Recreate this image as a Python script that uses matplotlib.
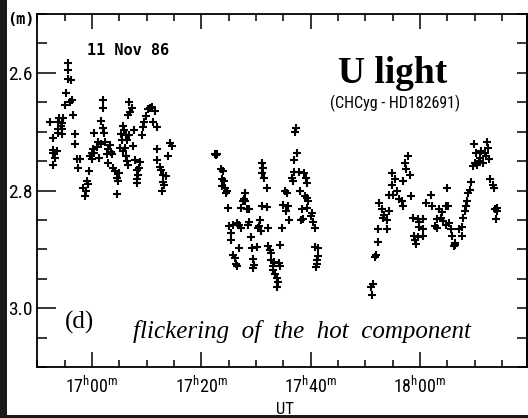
import matplotlib
matplotlib.use("Agg")
import matplotlib.pyplot as plt
from matplotlib import font_manager
from matplotlib.patches import Rectangle
from matplotlib.ticker import FixedLocator, FuncFormatter, MultipleLocator

# U-band light curve of CH Cyg, 11 Nov 1986
# time in minutes after 17h00m UT, brightness in magnitudes
run1_ut = [-7.68, -7.19, -7.19, -7.08, -6.77, -7.08, -6.46, -6.16, -6.16, -6.16,
           -5.98, -5.72, -5.54, -5.54, -5.43, -5.25, -4.94, -4.76, -4.33, -4.33,
           -4.33, -3.90, -4.02, -3.71, -3.42, -3.11, -3.11, -2.69, -2.19, -2.51,
           -1.59, -1.28, -1.10, -0.97, -0.68, -0.49, -0.37, -0.05, 0.05, 0.24,
           0.42, 0.42, 0.86, 1.15, 1.34, 1.59, 1.59, 1.96, 2.07, 2.07,
           2.19, 2.38, 2.80, 2.98, 2.98, 3.29, 3.42, 3.60, 3.79, 4.21,
           4.63, 4.81, 4.99, 4.63, 5.12, 5.25, 5.43, 5.62, 5.62, 5.85,
           6.04, 6.22, 6.35, 6.22, 6.35, 6.64, 6.64, 6.82, 6.95, 7.26,
           6.82, 7.55, 7.68, 7.86, 8.18, 8.36, 8.18, 8.29, 8.65, 8.78,
           9.09, 9.38, 9.51, 9.88, 10.30, 10.61, 10.92, 11.52, 11.21, 11.83,
           11.83, 11.94, 12.44, 12.62, 13.08, 13.63, 12.99, 13.26, 12.89, 14.27,
           14.58, 13.96]
run1_mag = [2.683, 2.711, 2.732, 2.737, 2.744, 2.756, 2.733, 2.684, 2.696, 2.703,
            2.676, 2.690, 2.685, 2.696, 2.704, 2.676, 2.654, 2.634, 2.583, 2.595,
            2.611, 2.612, 2.649, 2.646, 2.671, 2.704, 2.721, 2.746, 2.747, 2.762,
            2.795, 2.810, 2.801, 2.784, 2.789, 2.767, 2.741, 2.736, 2.746, 2.730,
            2.737, 2.702, 2.726, 2.718, 2.744, 2.721, 2.682, 2.646, 2.660, 2.694,
            2.703, 2.718, 2.738, 2.730, 2.753, 2.723, 2.734, 2.738, 2.761, 2.767,
            2.778, 2.784, 2.770, 2.806, 2.728, 2.704, 2.715, 2.690, 2.733, 2.697,
            2.727, 2.705, 2.715, 2.741, 2.750, 2.756, 2.672, 2.649, 2.667, 2.659,
            2.706, 2.724, 2.697, 2.749, 2.766, 2.773, 2.781, 2.787, 2.761, 2.751,
            2.705, 2.692, 2.684, 2.673, 2.662, 2.659, 2.658, 2.665, 2.684, 2.692,
            2.729, 2.749, 2.760, 2.766, 2.774, 2.776, 2.785, 2.790, 2.801, 2.720,
            2.724, 2.741]

run2_ut = [22.50, 22.77, 22.86, 23.54, 23.91, 23.72, 24.14, 23.72, 24.33, 24.64,
           24.51, 24.93, 25.11, 25.42, 25.37, 25.84, 26.58, 26.94, 27.20, 26.94,
           25.84, 26.16, 26.34, 26.58, 27.98, 27.80, 27.56, 27.98, 27.20, 28.30,
           28.77, 28.77, 28.59, 29.03, 29.21, 30.12, 29.50, 29.63, 29.50, 31.04,
           31.33, 31.04, 31.51, 31.95, 31.04, 32.06, 30.73, 30.60, 30.42, 30.91,
           32.25, 32.25, 32.56, 32.68, 32.74, 33.29, 33.05, 33.16, 33.47, 33.89,
           34.08, 33.78, 34.39, 34.26, 34.39, 34.70, 35.30, 35.61, 34.99, 35.90,
           35.48, 36.09, 36.53, 36.82, 36.95, 37.92, 38.78, 39.14, 39.27, 38.04,
           38.96, 39.38, 39.56, 38.35, 39.27, 40.18, 40.00, 38.54, 38.23, 40.48,
           40.79, 37.44, 36.95, 37.31, 37.13, 40.79, 41.39, 41.39, 41.10, 41.21,
           40.97]
run2_mag = [2.738, 2.739, 2.738, 2.764, 2.767, 2.781, 2.784, 2.793, 2.795, 2.801,
            2.805, 2.830, 2.861, 2.873, 2.884, 2.858, 2.856, 2.858, 2.864, 2.898,
            2.909, 2.915, 2.925, 2.928, 2.804, 2.815, 2.817, 2.818, 2.830, 2.832,
            2.831, 2.854, 2.858, 2.879, 2.898, 2.896, 2.917, 2.926, 2.932, 2.753,
            2.761, 2.770, 2.778, 2.795, 2.826, 2.828, 2.850, 2.860, 2.864, 2.868,
            2.864, 2.895, 2.901, 2.906, 2.918, 2.921, 2.929, 2.935, 2.942, 2.949,
            2.955, 2.964, 2.892, 2.923, 2.929, 2.864, 2.801, 2.805, 2.824, 2.826,
            2.834, 2.850, 2.778, 2.784, 2.769, 2.769, 2.771, 2.778, 2.787, 2.801,
            2.810, 2.812, 2.818, 2.831, 2.830, 2.838, 2.844, 2.848, 2.850, 2.854,
            2.864, 2.736, 2.748, 2.693, 2.701, 2.896, 2.898, 2.912, 2.918, 2.925,
            2.930]

run3_ut = [51.34, 51.12, 51.21, 51.76, 51.94, 52.37, 52.37, 53.90, 52.55, 52.99,
           53.41, 53.28, 53.90, 54.38, 54.82, 55.42, 54.82, 55.73, 55.11, 54.38,
           56.21, 56.64, 56.83, 56.94, 58.16, 57.43, 57.25, 57.85, 58.29, 58.66,
           59.68, 60.60, 59.86, 59.86, 60.49, 58.89, 59.08, 59.26, 59.68, 60.60,
           61.09, 62.13, 61.95, 62.74, 63.05, 63.05, 63.78, 63.52, 63.96, 64.75,
           65.17, 64.14, 64.75, 65.35, 65.61, 64.99, 65.79, 67.62, 66.39, 66.21,
           66.49, 67.18, 67.62, 67.91, 68.22, 68.40, 68.53, 68.82, 69.13, 69.32,
           69.63, 70.05, 70.47, 70.84, 70.23, 69.87, 71.11, 70.97, 71.88, 72.49,
           72.30, 72.67, 72.07, 71.57, 72.92, 73.29, 73.53, 74.02, 73.71, 74.13,
           73.89]
run3_mag = [2.959, 2.964, 2.978, 2.913, 2.909, 2.887, 2.865, 2.865, 2.821, 2.832,
            2.841, 2.847, 2.850, 2.834, 2.770, 2.781, 2.790, 2.801, 2.807, 2.807,
            2.815, 2.818, 2.827, 2.784, 2.774, 2.763, 2.754, 2.741, 2.810, 2.847,
            2.848, 2.848, 2.854, 2.862, 2.865, 2.877, 2.884, 2.891, 2.879, 2.878,
            2.821, 2.827, 2.807, 2.861, 2.864, 2.848, 2.847, 2.832, 2.837, 2.827,
            2.827, 2.852, 2.858, 2.855, 2.865, 2.795, 2.877, 2.878, 2.889, 2.895,
            2.892, 2.865, 2.862, 2.847, 2.835, 2.827, 2.818, 2.804, 2.799, 2.786,
            2.759, 2.753, 2.756, 2.750, 2.736, 2.721, 2.733, 2.745, 2.736, 2.727,
            2.718, 2.747, 2.741, 2.753, 2.781, 2.790, 2.795, 2.830, 2.832, 2.835,
            2.848]

mag_labels = [2.6, 2.8, 3.0]
ut_labels = [0, 20, 40, 60]


def pick_narrow_font():
    """Return (family, stretch, size) for a condensed sans, falling back to Liberation Sans."""
    fonts = font_manager.fontManager.ttflist
    names = {f.name for f in fonts}
    for fam in ('Liberation Sans Narrow', 'Roboto Condensed', 'Open Sans Condensed'):
        if fam in names:
            return fam, 'normal', 13
    if any(f.name == 'DejaVu Sans' and f.stretch == 'condensed' for f in fonts):
        return 'DejaVu Sans', 'condensed', 12
    return 'Liberation Sans', 'normal', 12


narrow, stretch, lab_size = pick_narrow_font()
plt.rcParams['font.family'] = [narrow]
plt.rcParams['font.stretch'] = stretch
plt.rcParams['font.size'] = lab_size
serif = 'Liberation Serif'


def ut_fmt(v, pos):
    h = 17 + int(v) // 60
    m = int(v) % 60
    return f'{h}$^\\mathregular{{h}}$' + f'{m:02d}$^\\mathregular{{m}}$'


fig = plt.figure(figsize=(5.28, 4.18), dpi=100)
ax = fig.add_axes([36.5 / 528, 1 - 367 / 418, 490.5 / 528, 353 / 418])

for ut, mag in [(run1_ut, run1_mag), (run2_ut, run2_mag), (run3_ut, run3_mag)]:
    ax.plot(ut, mag, '+', color='black', ms=5.5, mew=1.5)

ax.set_xlim(-10.15, 79.6)
ax.set_ylim(3.1, 2.5)

for s in ax.spines.values():
    s.set_linewidth(1.3)

# x axis: long ticks every 20 min, short every 5, on top and bottom
ax.xaxis.set_major_locator(FixedLocator(ut_labels))
ax.xaxis.set_minor_locator(MultipleLocator(5))
ax.xaxis.set_major_formatter(FuncFormatter(ut_fmt))
ax.tick_params(axis='x', which='both', direction='in', top=True, width=1.1)
ax.tick_params(axis='x', which='major', length=10.5, pad=6)
ax.tick_params(axis='x', which='minor', length=5)

# left y axis: long ticks at labelled values
ax.yaxis.set_major_locator(FixedLocator(mag_labels))
ax.yaxis.set_minor_locator(MultipleLocator(0.05))
ax.yaxis.set_major_formatter(FuncFormatter(lambda v, p: f'{v:.1f}'))
ax.tick_params(axis='y', which='both', direction='in', right=False, width=1.1)
ax.tick_params(axis='y', which='major', length=14, pad=3, labelsize=lab_size + 1)
ax.tick_params(axis='y', which='minor', length=7.5)

# right y axis: equal short ticks every 0.05 mag
ry = ax.secondary_yaxis('right')
ry.yaxis.set_major_locator(MultipleLocator(0.05))
ry.tick_params(axis='y', which='major', direction='in', length=7.5, width=1.1, labelright=False)
ry.spines['right'].set_linewidth(1.3)

ax.set_xlabel('UT', fontsize=lab_size - 1)
ax.xaxis.set_label_coords(0.507, -0.098)

fig.text(7 / 528, 1 - 20 / 418, '(m)', fontfamily='DejaVu Sans Mono', fontweight='bold',
         fontstretch='normal', fontsize=11, va='center', ha='left')

ax.text(0.103, 0.884, '11 Nov 86', transform=ax.transAxes, fontfamily='DejaVu Sans Mono',
        fontweight='bold', fontstretch='normal', fontsize=11, va='baseline', ha='left')
ax.text(0.726, 0.805, 'U light', transform=ax.transAxes, fontfamily=serif,
        fontweight='bold', fontstretch='normal', fontsize=27, va='baseline', ha='center')
ax.text(0.731, 0.748, '(CHCyg - HD182691)', transform=ax.transAxes,
        fontsize=lab_size - 1.5, va='center', ha='center')
ax.text(0.058, 0.125, '(d)', transform=ax.transAxes, fontfamily=serif, fontstretch='normal',
        fontsize=18, va='center', ha='left')
ax.text(0.197, 0.082, 'flickering  of  the  hot  component', transform=ax.transAxes,
        fontfamily=serif, fontstyle='italic', fontstretch='normal', fontsize=18,
        va='baseline', ha='left')

# dark scan margins on the left and bottom
fig.patches.append(Rectangle((0, 0), 7 / 528, 1, transform=fig.transFigure,
                             facecolor='#1a1a1a', edgecolor='none', zorder=10))
fig.patches.append(Rectangle((0, 0), 1, 3 / 418, transform=fig.transFigure,
                             facecolor='#1a1a1a', edgecolor='none', zorder=10))

fig.savefig('out.png', dpi=100)
